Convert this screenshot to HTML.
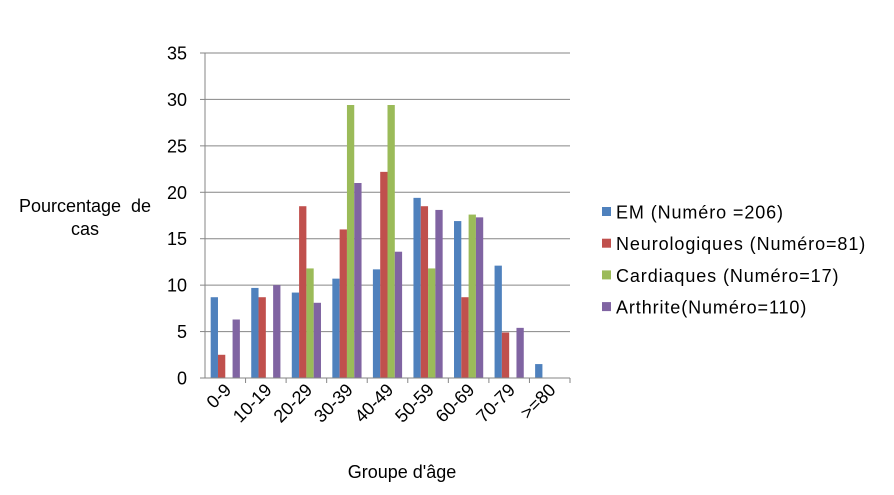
<!DOCTYPE html>
<html><head><meta charset="utf-8"><style>
body{margin:0;background:#fff;font-family:"Liberation Sans",sans-serif;}
</style></head><body>
<svg id="chart" width="894" height="490" xmlns="http://www.w3.org/2000/svg" style="font-family:'Liberation Sans',sans-serif">
<g id="grid"></g><g id="bars"></g><g id="axes"></g>
<text x="85" y="212" font-size="18" text-anchor="middle" word-spacing="5">Pourcentage de</text>
<text x="85" y="235" font-size="18" text-anchor="middle">cas</text>
<text x="402" y="478" font-size="18" text-anchor="middle">Groupe d'âge</text>
<g id="legend"></g>
</svg>
<script>
const categories=["0-9","10-19","20-29","30-39","40-49","50-59","60-69","70-79",">=80"];
const seriesNames=["EM (Numéro =206)","Neurologiques (Numéro=81)","Cardiaques (Numéro=17)","Arthrite(Numéro=110)"];
const emValues=[8.7,9.7,9.2,10.7,11.7,19.4,16.9,12.1,1.5];
const neuroValues=[2.5,8.7,18.5,16,22.2,18.5,8.7,4.9,0];
const cardValues=[0,0,11.8,29.4,29.4,11.8,17.6,0,0];
const arthValues=[6.3,10,8.1,21,13.6,18.1,17.3,5.4,0];
const yTicks=[0,5,10,15,20,25,30,35];
const colors=["#4F81BD","#C0504D","#9BBB59","#8064A2"];
const allSeries=[emValues,neuroValues,cardValues,arthValues];
const NS="http://www.w3.org/2000/svg";
const x0=205,x1=570,yb=378,yt=53,ymax=35;
const gw=(x1-x0)/categories.length,bw=7.3;
const y=v=>yb-(v/ymax)*(yb-yt);
function mk(tag,attrs,parent,text){const e=document.createElementNS(NS,tag);for(const k in attrs)e.setAttribute(k,attrs[k]);if(text!=null)e.textContent=text;parent.appendChild(e);return e;}
const grid=document.getElementById('grid'),bars=document.getElementById('bars'),axes=document.getElementById('axes'),legend=document.getElementById('legend');
yTicks.forEach(t=>{
 if(t>0){const l=mk('line',{x1:x0,x2:x1,y1:y(t),y2:y(t),stroke:'#868686','stroke-width':1},grid);
 
 }
 const tx=mk('text',{x:187,y:y(t)+6.5,'font-size':18,'text-anchor':'end'},axes,String(t));
 
 
});
allSeries.forEach((s,si)=>{s.forEach((v,ci)=>{
 const bx=x0+ci*gw+(gw-4*bw)/2+si*bw;
 const r=mk('rect',{x:bx,y:y(v),width:bw,height:yb-y(v),fill:colors[si]},bars);
 
 
});});
const ya=mk('line',{x1:x0,x2:x0,y1:yt,y2:yb,stroke:'#868686'},axes);


const xa=mk('line',{x1:x0-5,x2:x1,y1:yb,y2:yb,stroke:'#868686'},axes);


yTicks.forEach(t=>{mk('line',{x1:x0-5,x2:x0,y1:y(t),y2:y(t),stroke:'#868686'},axes);});
categories.forEach((c,i)=>{
 mk('line',{x1:x0+(i+1)*gw,x2:x0+(i+1)*gw,y1:yb,y2:yb+5,stroke:'#868686'},axes);
 const cx=x0+(i+0.5)*gw+7,cy=yb+13;
 const tx=mk('text',{x:cx,y:cy,'font-size':18,'text-anchor':'end',transform:`rotate(-45 ${cx} ${cy})`},axes,c);
 
 
});
seriesNames.forEach((n,i)=>{
 const ly=212+i*31.7;
 const g=mk('g',{},legend);
 
 
 mk('rect',{x:602,y:ly-5,width:9,height:9,fill:colors[i]},g);
 mk('text',{x:616,y:ly+6.5,'font-size':18,'letter-spacing':0.9},g,n);
});
</script>
</body></html>
